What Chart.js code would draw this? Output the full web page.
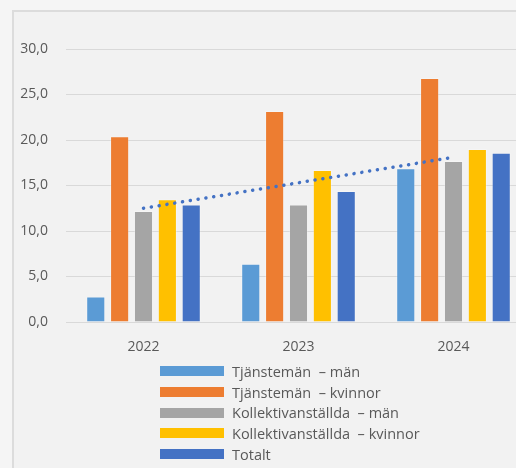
<!DOCTYPE html>
<html>
<head>
<meta charset="utf-8">
<script src="https://cdn.jsdelivr.net/npm/chart.js@4"></script>
<style>
    html, body { margin: 0; padding: 0; overflow: hidden; background: #f5f5f5; }
    body { width: 516px; height: 468px; position: relative; }
    .frame {
        position: absolute; left: 12px; top: 10px; width: 540px; height: 480px;
        border-left: 2px solid #dcdcdc; border-top: 2px solid #dcdcdc;
        background: #f2f2f2;
    }
    .chart-container { position: absolute; left: 0; top: 0; width: 531px; height: 468px; }
    #legend { position: absolute; left: 160px; top: 361px; font-family: "Open Sans", sans-serif; font-size: 14.5px; color: #595959; }
    .item { height: 20.7px; display: flex; align-items: center; white-space: pre; }
    .swatch { width: 64px; height: 10px; margin-right: 8px; }
</style>
</head>
<body>
<div class="frame"></div>
<div class="chart-container"><canvas id="myChart" width="531" height="468"></canvas></div>
<div id="legend"></div>
<script>
// Values
const years = ['2022', '2023', '2024'];
const seriesNames = [
    'Tjänstemän  – män',
    'Tjänstemän  – kvinnor',
    'Kollektivanställda  – män',
    'Kollektivanställda  – kvinnor',
    'Totalt'
];
const tjMan = [2.8, 6.4, 16.9];
const tjKvinnor = [20.4, 23.2, 26.8];
const kollMan = [12.2, 12.9, 17.7];
const kollKvinnor = [13.5, 16.7, 19.0];
const totalt = [12.9, 14.4, 18.6];
const trendTotalt = [12.5, 15.3, 18.1]; // dotted trend line of Totalt
const yTicks = [0, 5, 10, 15, 20, 25, 30];

const colors = ['#5B9BD5', '#ED7D31', '#A5A5A5', '#FFC000', '#4472C4'];
const seriesValues = [tjMan, tjKvinnor, kollMan, kollKvinnor, totalt];

const textColor = '#595959';
const gridColor = '#d9d9d9';

const barSets = seriesValues.map((vals, i) => ({
    type: 'bar',
    label: seriesNames[i],
    data: vals,
    backgroundColor: colors[i],
    borderColor: 'rgba(255,255,255,0.25)',
    borderWidth: 1,
    categoryPercentage: 0.77,
    barPercentage: 0.8,
    order: 1
}));

const ctx = document.getElementById('myChart').getContext('2d');
const myChart = new Chart(ctx, {
    data: {
        labels: years,
        datasets: [{
            type: 'line',
            label: 'Trend Totalt',
            data: trendTotalt,
            borderColor: '#4472C4',
            borderWidth: 3.5,
            borderDash: [0.1, 7.8],
            borderCapStyle: 'round',
            pointRadius: 0,
            fill: false,
            order: 0
        }, ...barSets]
    },
    options: {
        responsive: false,
        animation: false,
        layout: { padding: { top: 49, right: 0, bottom: 106, left: 0 } },
        plugins: {
            legend: { display: false },
            tooltip: { enabled: false }
        },
        scales: {
            x: {
                grid: { display: false, drawTicks: false },
                border: { display: true, color: gridColor, width: 1 },
                ticks: {
                    color: textColor,
                    padding: 17,
                    font: { family: '"Open Sans", sans-serif', size: 14 }
                },
                afterFit(scale) { scale.height = 40; }
            },
            y: {
                min: 0,
                max: 30,
                afterBuildTicks(scale) { scale.ticks = yTicks.map(v => ({ value: v })); },
                grid: { color: gridColor, lineWidth: 1, drawTicks: false },
                border: { display: false },
                ticks: {
                    color: textColor,
                    padding: 18,
                    font: { family: '"Open Sans", sans-serif', size: 14 },
                    callback: function(value) {
                        return value.toFixed(1).replace('.', ',');
                    }
                },
                afterFit(scale) { scale.width = 66; }
            }
        }
    }
});

// Vertical legend built from the bar datasets
const legend = document.getElementById('legend');
barSets.forEach(ds => {
    const row = document.createElement('div');
    row.className = 'item';
    const sw = document.createElement('span');
    sw.className = 'swatch';
    sw.style.background = ds.backgroundColor;
    const txt = document.createElement('span');
    txt.textContent = ds.label;
    row.appendChild(sw);
    row.appendChild(txt);
    legend.appendChild(row);
});
</script>
</body>
</html>
